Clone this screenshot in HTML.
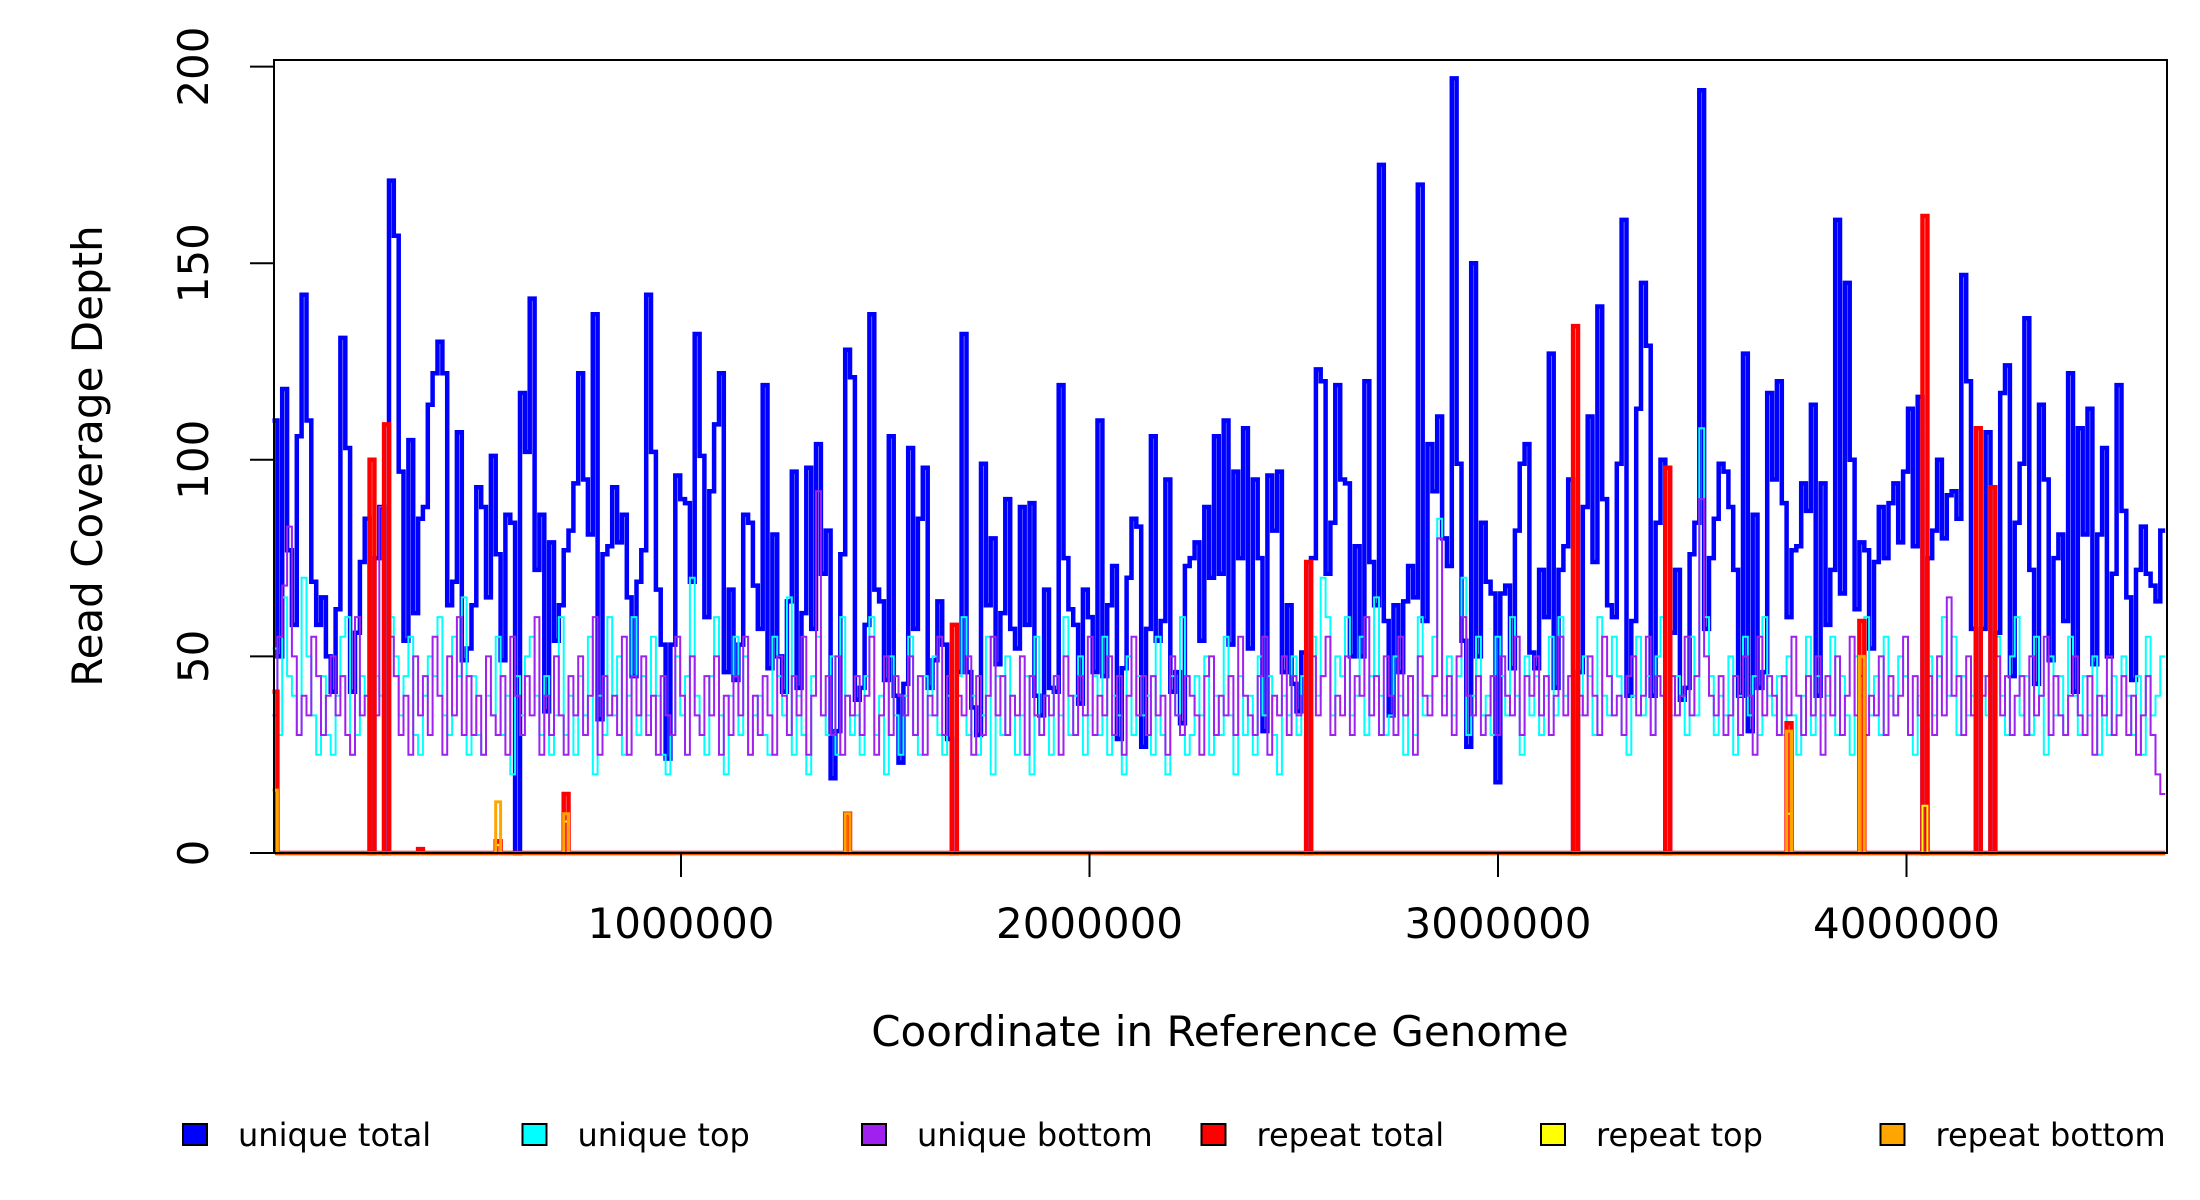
<!DOCTYPE html>
<html><head><meta charset="utf-8"><style>
html,body{margin:0;padding:0;background:#fff;}
svg{display:block;font-family:"DejaVu Sans","Liberation Sans",sans-serif;}
</style></head><body>
<svg id="chart" width="2200" height="1200" viewBox="0 0 2200 1200" xmlns="http://www.w3.org/2000/svg">
<rect x="0" y="0" width="2200" height="1200" fill="#fff"/>
<g id="series"></g>
<rect x="274" y="60" width="1893" height="793" fill="none" stroke="#000" stroke-width="2"/>
<g id="axes"></g>
<text x="1220" y="1046" font-size="42" text-anchor="middle">Coordinate in Reference Genome</text>
<text transform="translate(102,456) rotate(-90)" font-size="42" text-anchor="middle">Read Coverage Depth</text>
<g id="legend"></g>
</svg>
<script>
const binSize = 11880;
const uniqueTotal = [110,50,118,77,58,106,142,110,69,58,65,50,41,62,131,103,41,56,74,85,0,75,88,0,171,157,97,54,105,61,85,88,114,122,130,122,63,69,107,49,52,63,93,88,65,101,76,49,86,84,0,117,102,141,72,86,36,79,54,63,77,82,94,122,95,81,137,34,76,78,93,79,86,65,45,69,77,142,102,67,53,24,53,96,
90,89,69,132,101,60,92,109,122,46,67,44,53,86,84,68,57,119,47,81,50,41,64,97,42,61,98,57,104,71,82,19,31,76,128,121,39,42,58,137,67,64,44,106,40,23,43,103,57,85,98,42,49,64,53,29,0,46,132,46,37,30,99,63,80,48,61,90,57,52,88,58,89,40,35,67,42,41,119,75,62,58,38,67,60,46,
110,45,63,73,29,47,70,85,83,27,57,106,54,59,95,41,46,33,73,75,79,54,88,70,106,71,110,53,97,75,108,52,95,75,31,96,82,97,46,63,43,36,51,0,75,123,120,71,84,119,95,94,50,78,50,120,74,63,175,59,35,63,46,64,73,65,170,59,104,92,111,80,73,197,99,54,27,150,50,84,69,
66,18,66,68,47,82,99,104,51,47,72,60,127,42,72,78,95,0,46,88,111,74,139,90,63,60,99,161,40,59,113,145,129,40,84,100,0,56,72,39,42,76,84,194,57,75,85,99,97,88,72,40,127,31,86,42,46,117,95,120,89,60,77,78,94,87,114,40,94,58,72,161,66,145,100,62,79,77,52,74,88,
75,89,94,79,97,113,78,116,0,75,82,100,80,91,92,85,147,120,57,0,57,107,0,56,117,124,45,84,99,136,72,43,114,95,49,75,81,59,122,41,108,81,113,48,81,103,50,71,119,87,65,44,72,83,71,68,64,82];
const uniqueTop = [52,30,65,45,40,30,70,50,35,25,45,30,25,40,55,60,25,30,45,40,0,45,40,0,60,50,35,45,55,30,25,40,50,45,60,35,30,55,45,65,25,45,30,25,40,35,55,30,40,20,45,35,50,55,40,30,45,25,35,60,30,40,25,45,35,55,20,40,30,60,35,50,25,40,60,30,45,35,55,40,25,20,30,50,35,45,70,40,30,25,45,60,35,20,40,55,30,50,25,35,40,30,25,55,45,35,65,25,40,30,20,45,55,35,30,50,25,60,40,30,35,25,45,60,30,40,20,50,35,25,40,55,30,25,45,35,50,30,25,40,0,45,60,30,40,25,35,55,20,45,30,50,40,25,35,45,20,55,30,40,25,45,35,60,30,40,50,25,35,45,30,55,25,40,35,20,50,30,45,35,40,25,55,30,20,45,35,60,25,30,45,35,50,25,40,30,55,35,20,45,30,40,25,50,35,45,30,20,40,35,50,30,45,0,55,40,70,60,35,50,45,60,35,40,55,30,45,65,40,30,35,50,40,25,45,30,60,35,40,55,85,40,50,35,45,70,30,40,55,35,40,30,55,45,35,60,40,25,50,35,45,30,40,55,35,60,40,45,0,35,50,45,30,60,40,35,55,45,30,25,40,55,35,45,30,50,60,0,35,45,40,30,55,35,108,60,45,30,40,35,50,25,40,55,35,45,30,60,40,35,45,30,50,35,25,40,55,30,45,35,40,55,30,45,35,25,50,40,60,35,45,30,55,40,35,50,45,30,25,40,0,50,35,45,60,40,55,30,45,35,40,0,45,35,0,55,40,30,50,60,35,45,30,55,40,25,50,35,45,30,55,40,30,45,35,50,25,40,30,45,35,50,40,30,45,25,55,35,40,50];
const uniqueBottom = [35,55,68,83,50,30,40,35,55,45,30,40,50,35,45,30,25,60,35,40,0,35,88,0,55,45,30,40,25,50,35,45,30,55,40,25,50,35,60,30,45,30,40,25,50,35,30,45,25,55,40,30,45,35,60,25,40,30,50,35,25,45,35,50,30,40,60,25,45,35,40,30,55,25,45,35,50,30,40,25,45,35,30,55,40,25,50,35,30,45,35,50,25,40,30,45,35,55,25,40,30,45,35,25,50,40,30,45,35,55,25,40,92,35,45,30,50,25,40,35,45,30,40,55,25,35,50,30,45,40,35,50,30,45,25,40,35,55,30,45,0,40,35,50,25,45,30,40,55,35,45,30,40,35,50,25,45,35,30,40,35,45,25,50,40,30,45,35,55,30,40,35,50,30,45,25,40,55,35,45,30,45,35,40,25,50,35,30,45,40,35,25,45,50,30,40,35,45,30,55,40,35,30,45,55,25,40,35,50,30,45,35,40,0,50,35,45,55,30,40,35,50,30,45,40,60,35,45,30,50,40,30,55,35,45,25,50,40,35,45,80,35,45,30,50,60,40,35,45,30,35,45,30,50,40,35,55,30,45,40,50,35,45,30,40,55,35,45,0,40,35,50,40,30,55,45,35,40,30,45,50,35,40,55,30,45,40,0,45,35,40,55,35,45,90,50,40,35,45,30,35,45,30,50,40,25,55,35,45,40,30,45,35,55,40,30,45,35,50,25,45,35,50,30,40,55,35,45,30,40,35,50,30,45,35,40,55,30,45,35,0,45,30,50,35,65,40,45,30,50,35,0,40,45,0,50,35,45,30,40,45,30,50,35,40,55,30,45,35,30,40,50,35,30,45,25,40,35,50,30,35,45,30,40,25,35,45,30,20,15];
const repeatTotalBins = [0,20,23,30,46,60,118,140,213,268,287,312,327,340,351,354];
const repeatTotalValues = [41,100,109,1,3,15,10,58,74,134,98,33,59,162,108,93];
const repeatTopBins = [46,60,312,340];
const repeatTopValues = [2,8,10,12];
const repeatBottomBins = [0,46,60,118,312,327];
const repeatBottomValues = [16,13,10,10,31,50];
const yTicks = [0,50,100,150,200];
const xTicks = [1000000,2000000,3000000,4000000];
const legendLabels = ["unique total","unique top","unique bottom","repeat total","repeat top","repeat bottom"];
const legendColors = ["#0000ff","#00ffff","#a020f0","#ff0000","#ffff00","#ffa500"];
const NBINS = uniqueTotal.length;

const NS = "http://www.w3.org/2000/svg";
const xScale = v => 272.5 + v * (408.5 / 1000000);
const yScale = v => 853 - v * (196.6 / 50);
const XMAX = 2167;

function sparseToFull(bins, vals){
  const a = new Array(NBINS).fill(0);
  bins.forEach((b,i)=>{ if (b < NBINS) a[b] = vals[i]; });
  return a;
}
function stepPath(vals){
  let d = "";
  vals.forEach((v,i)=>{
    const x0 = Math.min(XMAX, xScale(i*binSize)), x1 = Math.min(XMAX, xScale((i+1)*binSize)), y = yScale(v);
    d += (i===0 ? "M"+x0.toFixed(1)+" "+y.toFixed(1) : " V"+y.toFixed(1)) + " H"+x1.toFixed(1);
  });
  return d;
}
const layer = document.getElementById("series");
function addSeries(vals, color, w, name){
  const p = document.createElementNS(NS,"path");
  p.setAttribute("d", stepPath(vals));
  p.setAttribute("fill","none");
  p.setAttribute("stroke",color);
  p.setAttribute("stroke-width",w);
  
  
  layer.appendChild(p);
}
addSeries(uniqueTotal,"#0000ff",4.5,"unique-total-line");
addSeries(uniqueTop,"#00ffff",2,"unique-top-line");
addSeries(uniqueBottom,"#a020f0",2,"unique-bottom-line");
addSeries(sparseToFull(repeatTotalBins,repeatTotalValues),"#ff0000",4.5,"repeat-total-line");
addSeries(sparseToFull(repeatTopBins,repeatTopValues),"#ffff00",2,"repeat-top-line");
addSeries(sparseToFull(repeatBottomBins,repeatBottomValues),"#ffa500",3,"repeat-bottom-line");

const axes = document.getElementById("axes");
yTicks.forEach(t=>{
  const y = yScale(t);
  const l = document.createElementNS(NS,"line");
  l.setAttribute("x1",250); l.setAttribute("x2",274); l.setAttribute("y1",y); l.setAttribute("y2",y);
  l.setAttribute("stroke","#000"); l.setAttribute("stroke-width",2);
  
  
  axes.appendChild(l);
  const tx = document.createElementNS(NS,"text");
  tx.setAttribute("transform","translate(208,"+y+") rotate(-90)");
  tx.setAttribute("font-size","42"); tx.setAttribute("text-anchor","middle");
  tx.textContent = t;
  
  
  axes.appendChild(tx);
});
xTicks.forEach(t=>{
  const x = xScale(t);
  const l = document.createElementNS(NS,"line");
  l.setAttribute("x1",x); l.setAttribute("x2",x); l.setAttribute("y1",853); l.setAttribute("y2",877);
  l.setAttribute("stroke","#000"); l.setAttribute("stroke-width",2);
  
  
  axes.appendChild(l);
  const tx = document.createElementNS(NS,"text");
  tx.setAttribute("x",x); tx.setAttribute("y",938);
  tx.setAttribute("font-size","42"); tx.setAttribute("text-anchor","middle");
  tx.textContent = t;
  
  
  axes.appendChild(tx);
});

const legend = document.getElementById("legend");
legendLabels.forEach((lab,i)=>{
  const x = 183 + i*339.5;
  const r = document.createElementNS(NS,"rect");
  r.setAttribute("x",x); r.setAttribute("y",1124); r.setAttribute("width",24); r.setAttribute("height",21);
  r.setAttribute("fill",legendColors[i]); r.setAttribute("stroke","#000"); r.setAttribute("stroke-width",2);
  
  
  legend.appendChild(r);
  const tx = document.createElementNS(NS,"text");
  tx.setAttribute("x",x+55); tx.setAttribute("y",1146);
  tx.setAttribute("font-size","32");
  tx.textContent = lab;
  
  
  legend.appendChild(tx);
});
</script>
</body></html>
